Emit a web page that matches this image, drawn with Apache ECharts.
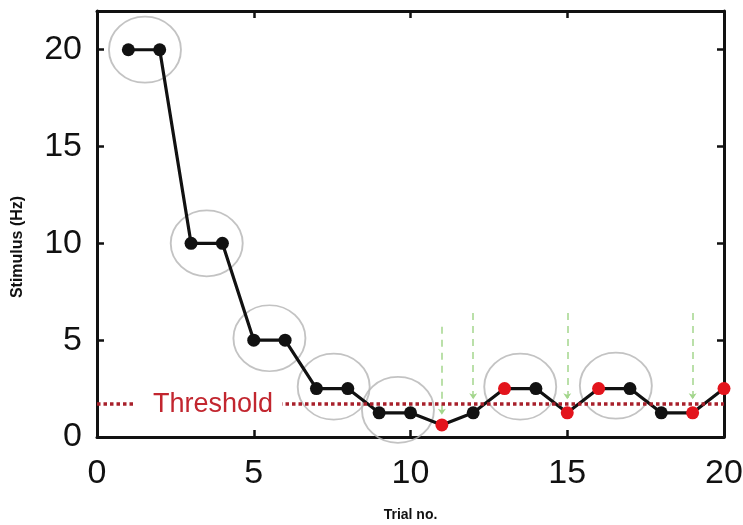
<!DOCTYPE html>
<html>
<head>
<meta charset="utf-8">
<script src="https://cdn.jsdelivr.net/npm/echarts@6/dist/echarts.min.js"></script>
<style>
  html, body { margin: 0; padding: 0; background: #fff; }
  #chart { width: 743px; height: 525px; }
</style>
</head>
<body>
<div id="chart"></div>
<script>
// Staircase run: stimulus frequency presented on each trial
const trials = [1, 2, 3, 4, 5, 6, 7, 8, 9, 10, 11, 12, 13, 14, 15, 16, 17, 18, 19, 20];
const stimulus = [20, 20, 10, 10, 5, 5, 2.5, 2.5, 1.25, 1.25, 0.625, 1.25, 2.5, 2.5, 1.25, 2.5, 2.5, 1.25, 1.25, 2.5];
// Trials marked as reversal points (drawn red)
const reversalTrials = [11, 13, 15, 16, 19, 20];
// Estimated threshold level (Hz)
const threshold = 1.7;
// Centres of the grey rings grouping repeated stimulus pairs [trial, Hz]
const pairCentres = [[1.53, 20], [3.5, 10], [5.5, 5.1], [7.55, 2.6], [9.6, 1.4], [13.5, 2.6], [16.55, 2.65]];
// Dashed pointer arrows: trial, start level, end level
const arrowTrials = [11, 12, 15, 19];
const arrowFrom = [5.7, 6.4, 6.4, 6.4];
const arrowTo = [1.15, 1.95, 1.95, 1.95];
// Axis ticks
const xTicks = { min: 0, max: 20, interval: 5 };
const yTicks = { min: 0, max: 22, interval: 5 };

const BLACK = '#111';
const RED = '#e3141c';
const DARKRED = '#a8202b';
const GREEN = '#a3d68c';
const RING = '#b4b4b4';
const FONT = 'Liberation Sans, Arial, Helvetica, sans-serif';

const chart = echarts.init(document.getElementById('chart'), null, { renderer: 'canvas' });

const pointData = trials.map((t, i) => {
  const isRev = reversalTrials.includes(t);
  return { value: [t, stimulus[i]], itemStyle: { color: isRev ? RED : BLACK } };
});

const arrowData = arrowTrials.map((t, i) => ({ coords: [[t, arrowFrom[i]], [t, arrowTo[i]]] }));

const axisCommon = {
  type: 'value',
  axisLine: { show: true, onZero: false, lineStyle: { color: BLACK, width: 3 } },
  axisTick: { show: true, inside: true, length: 7, lineStyle: { color: BLACK, width: 2.5 } },
  splitLine: { show: false }
};

chart.setOption({
  animation: false,
  backgroundColor: '#fff',
  grid: { left: 97, right: 19, top: 11, bottom: 88, outerBoundsMode: 'none', containLabel: false },
  xAxis: [
    Object.assign({}, axisCommon, {
      position: 'bottom',
      min: xTicks.min, max: xTicks.max, interval: xTicks.interval,
      axisLabel: { fontSize: 34, color: BLACK, fontFamily: FONT, margin: 20 },
      name: 'Trial no.',
      nameLocation: 'middle',
      nameGap: 71,
      nameTextStyle: { fontSize: 14, fontWeight: 'bold', color: BLACK, fontFamily: FONT }
    }),
    Object.assign({}, axisCommon, {
      position: 'top',
      min: xTicks.min, max: xTicks.max, interval: xTicks.interval,
      axisLabel: { show: false }
    })
  ],
  yAxis: [
    Object.assign({}, axisCommon, {
      position: 'left',
      min: yTicks.min, max: yTicks.max, interval: yTicks.interval,
      axisLabel: { fontSize: 34, color: BLACK, fontFamily: FONT, margin: 15, showMaxLabel: false }
    }),
    Object.assign({}, axisCommon, {
      position: 'right',
      min: yTicks.min, max: yTicks.max, interval: yTicks.interval,
      axisLabel: { show: false }
    })
  ],
  graphic: [{
    type: 'text',
    x: 18,
    y: 247,
    rotation: Math.PI / 2,
    style: {
      text: 'Stimulus (Hz)',
      font: 'bold 16px ' + FONT,
      fill: BLACK,
      align: 'center',
      verticalAlign: 'middle'
    }
  }],
  series: [
    {
      name: 'rings',
      type: 'scatter',
      silent: true,
      symbol: 'circle',
      symbolSize: [72, 66],
      itemStyle: { color: 'rgba(0,0,0,0)', borderColor: RING, borderWidth: 1.8 },
      data: pairCentres,
      z: 1
    },
    {
      name: 'threshold',
      type: 'line',
      data: [],
      markLine: {
        silent: true,
        symbol: ['none', 'none'],
        lineStyle: { color: DARKRED, width: 3.5, type: [3.5, 3] },
        label: {
          show: true,
          formatter: 'Threshold',
          position: 'insideStart',
          distance: [39, 0],
          color: '#c2262f',
          fontSize: 27,
          fontFamily: FONT,
          backgroundColor: '#fff',
          padding: [0, 9, 0, 17]
        },
        data: [{ yAxis: threshold }]
      },
      z: 2
    },
    {
      name: 'pointers',
      type: 'lines',
      coordinateSystem: 'cartesian2d',
      silent: true,
      symbol: ['none', 'arrow'],
      symbolSize: 6,
      lineStyle: { color: GREEN, width: 1.5, type: [7, 6], opacity: 1 },
      data: arrowData,
      z: 3
    },
    {
      name: 'stimulus',
      type: 'line',
      data: pointData,
      symbol: 'circle',
      symbolSize: 13,
      showAllSymbol: true,
      lineStyle: { color: BLACK, width: 3.2 },
      itemStyle: { color: BLACK },
      z: 4
    }
  ]
});
</script>
</body>
</html>
